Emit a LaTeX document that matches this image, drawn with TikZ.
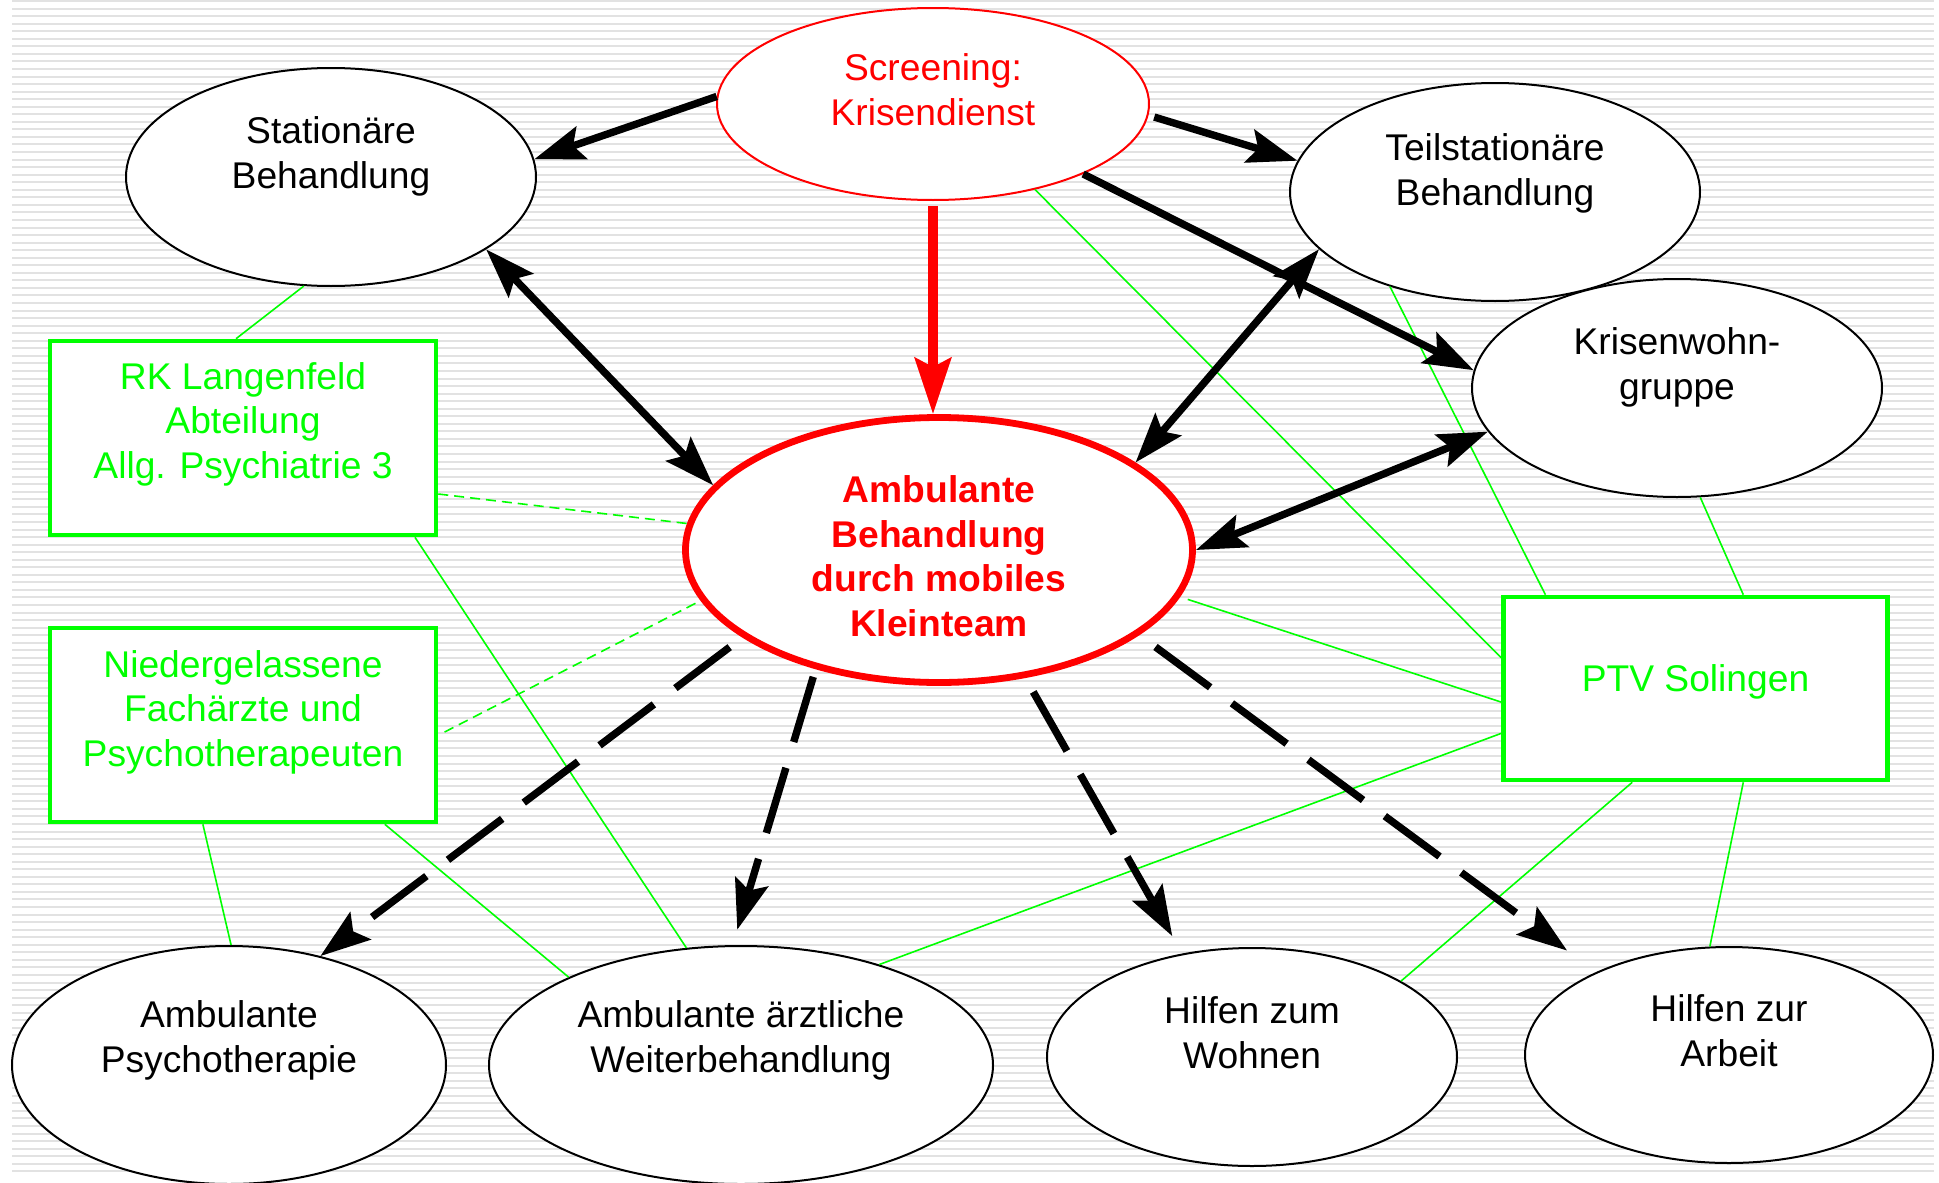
\documentclass[tikz,border=0pt]{standalone}
\usepackage{fontspec}
\setmainfont{Liberation Sans}
\usetikzlibrary{shapes.geometric,arrows.meta}
\definecolor{netzgreen}{HTML}{00FF00}
\definecolor{krisenred}{HTML}{FF0000}
\definecolor{stripegray}{HTML}{E2E2E2}
\newcommand{\diafont}{\fontsize{18.6}{22.3}\selectfont}

\begin{document}
\begin{tikzpicture}[x=0.5pt, y=-0.5pt,
    every node/.style={font=\diafont, align=center, inner sep=0pt},
    bigtip/.tip={Stealth[length=25pt, width=17pt, inset=4.5pt]},
    redtip/.tip={Stealth[length=28pt, width=18pt, inset=4.5pt]},
    oval/.style={ellipse, draw, fill=white, line width=1pt, text depth=24.5pt},
    greenbox/.style={rectangle, draw=netzgreen, fill=white, line width=2.3pt, text=netzgreen,
      minimum width=193pt, minimum height=97pt},
    stripe/.style={stripegray, line width=1pt},
    link/.style={netzgreen, line width=0.8pt},
    dlink/.style={link, dash pattern=on 5pt off 3pt},
    flow/.style={line width=3.7pt, -bigtip},
    both/.style={line width=3.7pt, bigtip-bigtip},
    dflow/.style={flow, dash pattern=on 34pt off 13.5pt},
    redflow/.style={krisenred, line width=4.7pt, -redtip}]
  \useasboundingbox (0,0) rectangle (1939,1183);

  % striped background
  \foreach \i in {0,...,155}
    \draw[stripe] (12,{1+7.55*\i}) -- (1934,{1+7.55*\i});

  % top row
  \node[oval, draw=krisenred, text=krisenred, minimum width=216pt, minimum height=96pt, text depth=14.5pt] (scr) at (933,104) {Screening:\\Krisendienst};
  \node[oval, minimum width=205pt, minimum height=109pt] (sta) at (331,177) {Stationäre\\Behandlung};
  \node[oval, minimum width=205pt, minimum height=109pt, text depth=22.5pt] (teil) at (1495,192) {Teilstationäre\\Behandlung};
  \node[oval, minimum width=205pt, minimum height=109pt] (kris) at (1677,388) {Krisenwohn-\\gruppe};

  % centre
  \node[ellipse, draw=krisenred, fill=white, line width=3.4pt, text=krisenred, font=\diafont\bfseries,
    text height=86.5pt, text depth=0pt,
    minimum width=253.5pt, minimum height=132.5pt] (cen) at (939,550) {Ambulante\\Behandlung\\durch mobiles\\Kleinteam};

  % green partners
  \node[greenbox, text depth=17.5pt] (rk) at (243,438) {RK Langenfeld\\Abteilung\\Allg. Psychiatrie 3};
  \node[greenbox, text depth=16.5pt] (nie) at (243,725) {Niedergelassene\\Fachärzte und\\Psychotherapeuten};
  \node[greenbox, minimum width=192pt, minimum height=91.5pt, text depth=10.5pt] (ptv) at (1695.5,688.5) {PTV Solingen};

  % bottom row
  \node[oval, minimum width=217pt, minimum height=119pt, text depth=28.5pt] (psy) at (229,1065) {Ambulante\\Psychotherapie};
  \node[oval, minimum width=252pt, minimum height=119pt, text depth=28.5pt] (aez) at (741,1065) {Ambulante ärztliche\\Weiterbehandlung};
  \node[oval, minimum width=205pt, minimum height=109pt] (woh) at (1252,1057) {Hilfen zum\\Wohnen};
  \node[oval, minimum width=204pt, minimum height=108pt] (arb) at (1729,1055) {Hilfen zur\\Arbeit};

  % green links
  \draw[link] (sta.256) -- (rk.94);
  \draw[dlink] (rk.-16) -- (cen.174);
  \draw[dlink, shorten <=3.5pt] (nie.-3) -- (cen.192);
  \draw[link] (rk.-30.5) -- (aez.115);
  \draw[link] (nie.248) -- (psy.89);
  \draw[link] (nie.-35.5) -- (aez.153);
  \draw[link] (scr.-40.4) -- (ptv.171);
  \draw[link] (teil.222) -- (ptv.148.5);
  \draw[link] (kris.-78) -- (ptv.63);
  \draw[link, shorten <=4pt] (cen.-11) -- (ptv.184);
  \draw[link] (ptv.193.5) -- (aez.36);
  \draw[link] (ptv.236) -- (woh.27);
  \draw[link] (ptv.-63) -- (arb.100);

  % arrows
  \draw[flow] (scr.178) -- (sta.5);
  \draw[flow, shorten <=3pt] (scr.-3) -- (teil.171);
  \draw[flow] (scr.-25.5) -- (kris.175);
  \draw[redflow, shorten <=2.5pt] (scr.south) -- (scr.south |- cen.north);
  \draw[both] (sta.-25) -- (cen.164);
  \draw[both] (teil.198) -- (cen.24);
  \draw[both] (kris.193) -- (cen.0);
  \draw[dflow, shorten <=8pt] (cen.204) -- (psy.50);
  \draw[dflow, shorten <=4pt, shorten >=8pt] (cen.224) -- (aez.94);
  \draw[dflow, shorten <=8pt, shorten >=10pt] (cen.-56) -- (woh.124);
  \draw[dflow, shorten <=10pt, shorten >=18pt] (cen.-23.5) -- (arb.148);
\end{tikzpicture}
\end{document}
